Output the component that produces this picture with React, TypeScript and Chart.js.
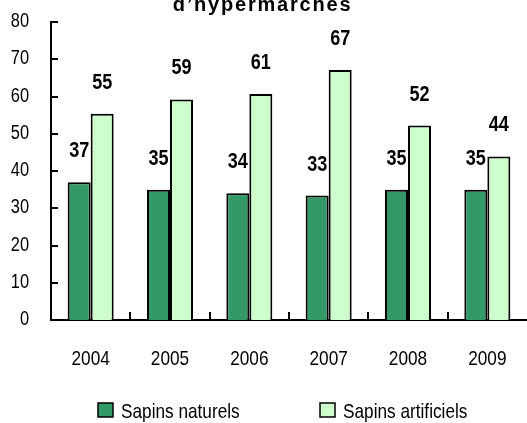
import React, { useEffect, useRef } from 'react';
import { Chart, registerables } from 'chart.js';

Chart.register(...registerables);

const categories = ['2004', '2005', '2006', '2007', '2008', '2009'];
const seriesNames = ['Sapins naturels', 'Sapins artificiels'];
const naturels = [37, 35, 34, 33.4, 35, 35];
const artificiels = [55.4, 59.2, 60.7, 67.1, 52.2, 43.9];
const yTicks = [0, 10, 20, 30, 40, 50, 60, 70, 80];
const titleLine = 'd’hypermarchés';

const SANS = '"Liberation Sans", Arial, sans-serif';
const NARROW_SCALE = 0.82;
const DARK = '#339966';
const LIGHT = '#CCFFCC';

function drawNarrow(
  ctx: CanvasRenderingContext2D,
  text: string,
  x: number,
  y: number,
  font: string,
  align: CanvasTextAlign
) {
  ctx.save();
  ctx.translate(x, y);
  ctx.scale(NARROW_SCALE, 1);
  ctx.font = font;
  ctx.fillStyle = '#000';
  ctx.textAlign = align;
  ctx.textBaseline = 'alphabetic';
  ctx.fillText(text, 0, 0);
  ctx.restore();
}

const titlePlugin = {
  id: 'clippedTitle',
  afterDraw(chart: any) {
    const ctx = chart.ctx;
    ctx.save();
    ctx.font = `bold 20px ${SANS}`;
    (ctx as any).letterSpacing = '1.8px';
    ctx.fillStyle = '#000';
    ctx.textAlign = 'center';
    ctx.textBaseline = 'alphabetic';
    ctx.fillText(titleLine, chart.width / 2 - 1, 10.5);
    ctx.restore();
  },
};

const axisPlugin = {
  id: 'axisMarksAndLabels',
  afterDatasetsDraw(chart: any) {
    const ctx = chart.ctx;
    const { left, bottom } = chart.chartArea;
    const y = chart.scales.y;
    const x = chart.scales.x;
    ctx.save();
    ctx.strokeStyle = '#000';
    ctx.lineWidth = 2;
    ctx.beginPath();
    y.ticks.forEach((t: any) => {
      const py = Math.round(y.getPixelForValue(t.value));
      ctx.moveTo(left, py);
      ctx.lineTo(left + 7, py);
    });
    for (let i = 1; i < x.ticks.length; i++) {
      const px = Math.round((x.getPixelForTick(i - 1) + x.getPixelForTick(i)) / 2);
      ctx.moveTo(px, bottom);
      ctx.lineTo(px, bottom - 8);
    }
    ctx.stroke();
    ctx.restore();

    y.ticks.forEach((t: any) => {
      const py = y.getPixelForValue(t.value);
      drawNarrow(ctx, String(t.label), left - 22, py + 5, `20px ${SANS}`, 'right');
    });
    x.ticks.forEach((t: any, i: number) => {
      const px = x.getPixelForTick(i);
      drawNarrow(ctx, String(x.getLabelForValue(t.value)), px, bottom + 45, `21px ${SANS}`, 'center');
    });
  },
};

const dataLabelsPlugin = {
  id: 'dataLabels',
  afterDatasetsDraw(chart: any) {
    const ctx = chart.ctx;
    chart.data.datasets.forEach((ds: any, i: number) => {
      const meta = chart.getDatasetMeta(i);
      meta.data.forEach((el: any, j: number) => {
        drawNarrow(ctx, String(Math.round(ds.data[j])), el.x, el.y - 25, `bold 22px ${SANS}`, 'center');
      });
    });
  },
};

const legendPlugin = {
  id: 'customLegend',
  afterDraw(chart: any) {
    const ctx = chart.ctx;
    const boxX = [98, 320];
    chart.data.datasets.forEach((ds: any, i: number) => {
      const bx = boxX[i];
      ctx.save();
      ctx.fillStyle = ds.backgroundColor;
      ctx.fillRect(bx, 403, 15, 14);
      ctx.strokeStyle = '#000';
      ctx.lineWidth = 1.5;
      ctx.strokeRect(bx, 403, 15, 14);
      ctx.restore();
      drawNarrow(ctx, ds.label, bx + 23, 418, `21px ${SANS}`, 'left');
    });
  },
};

export default function App() {
  const ref = useRef<HTMLCanvasElement>(null);

  useEffect(() => {
    if (!ref.current) return;
    const chart = new Chart(ref.current, {
      type: 'bar',
      data: {
        labels: categories,
        datasets: [
          {
            label: seriesNames[0],
            data: naturels,
            backgroundColor: DARK,
            borderColor: '#000',
            borderWidth: 2,
            barPercentage: 1,
            categoryPercentage: 0.58,
          },
          {
            label: seriesNames[1],
            data: artificiels,
            backgroundColor: LIGHT,
            borderColor: '#000',
            borderWidth: 2,
            barPercentage: 1,
            categoryPercentage: 0.58,
          },
        ],
      },
      options: {
        responsive: false,
        animation: false,
        devicePixelRatio: 1,
        layout: { padding: { top: 22, left: 0, right: 0, bottom: 0 } },
        plugins: {
          legend: { display: false },
          title: { display: false },
          tooltip: { enabled: false },
        },
        scales: {
          x: {
            type: 'category',
            grid: { display: false, drawTicks: false },
            border: { display: true, color: '#000', width: 2 },
            ticks: { display: false, autoSkip: false },
            afterFit: (s: any) => {
              s.height = 103;
              s.paddingLeft = 0;
              s.paddingRight = 0;
            },
          },
          y: {
            min: 0,
            max: 80,
            grid: { display: false, drawTicks: false },
            border: { display: true, color: '#000', width: 2 },
            ticks: { display: false },
            afterBuildTicks: (s: any) => {
              s.ticks = yTicks.map((v) => ({ value: v }));
            },
            afterFit: (s: any) => {
              s.width = 51;
              s.paddingTop = 0;
              s.paddingBottom = 0;
            },
          },
        },
      },
      plugins: [axisPlugin, dataLabelsPlugin, legendPlugin, titlePlugin],
    });
    return () => chart.destroy();
  }, []);

  return (
    <div
      style={{
        position: 'fixed',
        left: 0,
        top: 0,
        width: 527,
        height: 423,
        overflow: 'hidden',
        background: '#fff',
      }}
    >
      <canvas ref={ref} width={527} height={423} style={{ display: 'block' }} />
    </div>
  );
}
